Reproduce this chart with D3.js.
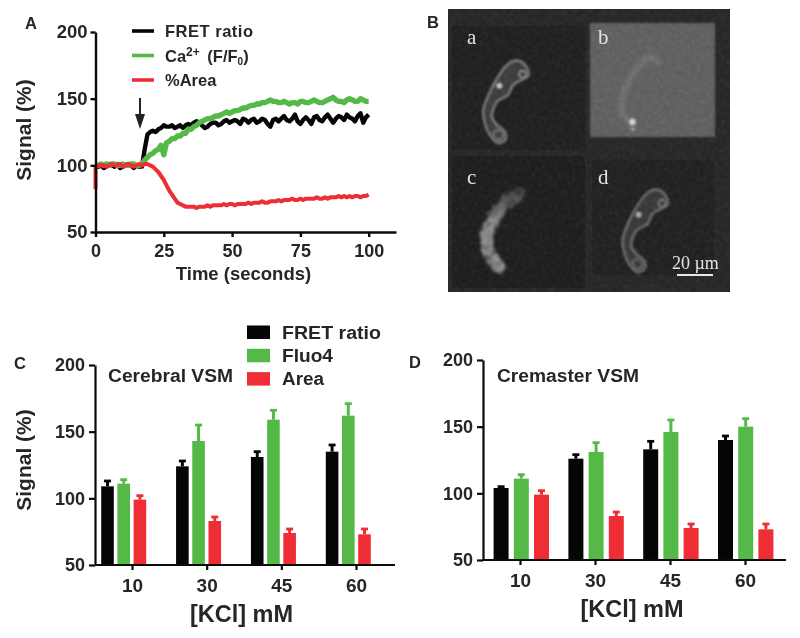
<!DOCTYPE html>
<html><head><meta charset="utf-8">
<script src="https://cdn.jsdelivr.net/npm/d3@7"></script>
<style>
html,body{margin:0;padding:0;background:#fff}
svg{display:block}
filter{color-interpolation-filters:sRGB}
text{font-family:"Liberation Sans",Arial,sans-serif;font-weight:700;fill:#262626}
.serif{font-family:"Liberation Serif",serif;font-weight:400;fill:#e4e4e4}
</style></head><body><div id="c"></div>
<script>
// ---------- Panel A data (one reading per second, 0-100 s) ----------
const fretRatio=[100,99,100,98,99,101,100,99,101,98,99,100,101,100,98,100,99,99,
112,123,125,126,125,127,128,130,129,129,130,128,129,130,128,130,131,130,132,133,
132,130,128,129,131,132,132,130,131,133,134,132,
133,134,133,131,135,134,132,134,135,132,
133,135,134,131,129,134,135,133,135,137,
134,133,135,138,133,131,134,136,134,131,
136,137,134,133,136,138,135,132,135,137,
136,134,138,136,135,133,137,139,132,136,138];
const calcium=[100,100,101,100,101,100,101,101,100,100,101,100,100,101,101,100,100,101,
104,106,108,109,111,112,115,108,117,118,120,120,122,122,124,124,127,127,129,130,132,133,
134,135,135,136,137,137,138,139,140,139,
140,141,141,142,143,143,144,145,145,146,
146,147,147,148,149,148,148,147,147,148,
147,146,147,147,146,148,148,147,147,148,
149,148,147,147,148,149,150,151,149,148,
148,147,149,150,149,148,148,150,149,148,148];
const areaOnset=82;
const areaPct=[98,100,100,100,99,100,101,100,100,101,99,100,101,100,99,100,101,100,101,101,
100,99,97,95,92,89,85,81,78,75,
72,71,70,69,69,69,69,68,69,69,
69,70,69,70,70,70,70,71,70,71,
71,70,71,71,71,71,72,71,72,72,
72,73,72,72,73,73,73,74,73,74,
74,74,75,74,74,75,74,75,75,75,
75,76,75,75,76,75,76,76,76,77,
76,77,76,77,76,77,77,76,77,77,78];
const timeTicks=[0,25,50,75,100];
const signalTicks=[50,100,150,200];
const kcl=["10","30","45","60"];
// ---------- Panel C ----------
const cFret=[109,124,131,135], cFretTop=[113,128,135,140];
const cFluo=[111,143,159,162], cFluoTop=[114,155,166,171];
const cArea=[99,83,74,73],     cAreaTop=[102,86,77,77];
// ---------- Panel D ----------
const dFret=[104,126,133,140], dFretTop=[105,129,139,143];
const dFluo=[111,131,146,150], dFluoTop=[114,138,155,156];
const dArea=[99,83,74,73],     dAreaTop=[102,86,77,77];
// ---------- Micrograph outlines (panel B, image-space) ----------
const cellOutline=[[517,60.5],[525,65],[528.5,75],[522,79.5],[513,85],[508,95],[497,101.5],[492,117],[497,125],[505,132],[505,140],[498,143],[490,135],[485,123.5],[483.5,110],[490,92],[498,77],[507,65]];
const ghostBand=[[658,62],[650,56.5],[643,62],[630,78],[623,97],[622,113],[632,123]];
const clumpBand=[[520,193],[508,200],[497,213],[489,228],[487,248],[499,267]];

const BLACK="#050505",GREEN="#55b947",RED="#ee2e34";
const svg=d3.select("#c").append("svg").attr("width",800).attr("height",638);
const defs=svg.append("defs");
defs.append("filter").attr("id","soft").attr("x","-5%").attr("y","-5%").attr("width","110%").attr("height","110%")
  .append("feGaussianBlur").attr("stdDeviation",0.55);
const blur=(id,s)=>defs.append("filter").attr("id",id).attr("x","-30%").attr("y","-30%").attr("width","160%").attr("height","160%").append("feGaussianBlur").attr("stdDeviation",s);
blur("b1",1.3);blur("b2",1.9);blur("b0",0.9);
// grain overlay
const grain=defs.append("filter").attr("id","grain").attr("x",0).attr("y",0).attr("width","100%").attr("height","100%");
grain.append("feTurbulence").attr("type","fractalNoise").attr("baseFrequency",0.4).attr("numOctaves",2).attr("seed",4);
grain.append("feColorMatrix").attr("values","1 1 0 0 -0.85  1 1 0 0 -0.85  1 1 0 0 -0.85  0 0 0 0 0.16");
grain.append("feGaussianBlur").attr("stdDeviation",0.8);
// clump texture for image c
const cl=defs.append("filter").attr("id","clump").attr("x","-30%").attr("y","-30%").attr("width","160%").attr("height","160%");
cl.append("feTurbulence").attr("type","fractalNoise").attr("baseFrequency",0.18).attr("numOctaves",2).attr("seed",9).attr("result","n");
cl.append("feDisplacementMap").attr("in","SourceGraphic").attr("in2","n").attr("scale",6).attr("result","d");
cl.append("feColorMatrix").attr("in","n").attr("values","0 0 0 0 0 0 0 0 0 0 0 0 0 0 0 1.9 0 0 0 -0.05").attr("result","m");
cl.append("feComposite").attr("in","d").attr("in2","m").attr("operator","in").attr("result","t");
cl.append("feGaussianBlur").attr("in","t").attr("stdDeviation",1.6);
const fade=defs.append("linearGradient").attr("id","fade").attr("gradientUnits","userSpaceOnUse").attr("x1",0).attr("x2",0).attr("y1",190).attr("y2",222);
fade.append("stop").attr("offset",0).attr("stop-color","#4c4c4c");
fade.append("stop").attr("offset",1).attr("stop-color","#a4a4a4");

const root=svg.append("g").attr("filter","url(#soft)");

function styleAxis(g,w,fs){
  g.selectAll("path,line").attr("stroke","#0a0a0a").attr("stroke-width",w);
  g.selectAll("text").style("font-size",fs+"px");
}
function label(x,y,t,fs,anchor,rot,len){
  const e=root.append("text").attr("x",x).attr("y",y).attr("font-size",fs).attr("text-anchor",anchor||"start").text(t);
  if(rot) e.attr("transform",`rotate(${rot} ${x} ${y})`);
  if(len) e.attr("textLength",len).attr("lengthAdjust","spacingAndGlyphs");
  return e;
}
// ================= Panel A =================
{
  const x=d3.scaleLinear().domain([0,110]).range([95.5,396]);
  const y=d3.scaleLinear().domain([50,200]).range([232,32]);
  const line=d3.line().x(d=>x(d[0])).y(d=>y(d[1]));
  const series=[[fretRatio,BLACK,4.4],[calcium,GREEN,5.4]];
  const gl=root.append("g").attr("fill","none").attr("stroke-linejoin","round");
  series.forEach(([v,c,w])=>gl.append("path").attr("d",line(v.map((d,i)=>[i,d]))).attr("stroke",c).attr("stroke-width",w));
  gl.append("path").attr("d",line([[0,areaOnset]].concat(areaPct.map((d,i)=>[i,d])))).attr("stroke",RED).attr("stroke-width",4);
  const gx=root.append("g").attr("transform","translate(0,232)").call(d3.axisBottom(x).tickValues(timeTicks).tickSize(5).tickPadding(7).tickSizeOuter(0));
  styleAxis(gx,2.4,18);
  const gy=root.append("g").attr("transform","translate(95.5,0)").call(d3.axisLeft(y).tickValues(signalTicks).tickSize(5).tickPadding(3).tickSizeOuter(0));
  styleAxis(gy,2.4,18.5);
  // arrow
  root.append("line").attr("x1",140).attr("x2",140).attr("y1",98).attr("y2",118).attr("stroke","#222").attr("stroke-width",2);
  root.append("path").attr("d",d3.line()([[135,114],[145,114],[140,129]])).attr("fill","#222");
  // legend
  [["FRET ratio",BLACK],["Ca",GREEN],["%Area",RED]].forEach(([t,c],i)=>{
    const ly=31+24.5*i;
    root.append("line").attr("x1",132).attr("x2",154).attr("y1",ly).attr("y2",ly).attr("stroke",c).attr("stroke-width",3.6);
    const e=label(165,ly+6,t,16.5);
    if(i===0) e.attr("textLength",88).attr("lengthAdjust","spacing");
    if(i===1){
      e.append("tspan").attr("dy",-6).attr("font-size",12).text("2+");
      e.append("tspan").attr("dy",6).attr("dx",3).text(" (F/F");
      e.append("tspan").attr("dy",3).attr("font-size",10).text("0");
      e.append("tspan").attr("dy",-3).text(")");
    }
  });
  label(24,130,"Signal (%)",21,"middle",null).attr("transform","rotate(-90 24 130) translate(0,7)");
  label(243.5,280,"Time (seconds)",18.5,"middle");
  label(25,29,"A",16.5);
}
// ================= Panel B (micrograph) =================
{
  const b=root.append("g");
  b.append("rect").attr("x",448).attr("y",9).attr("width",282).attr("height",283).attr("fill","#2b2a2a");
  b.append("rect").attr("x",452).attr("y",26).attr("width",133).attr("height",124).attr("fill","#232222");
  b.append("rect").attr("x",452).attr("y",156).attr("width",133).attr("height",132).attr("fill","#201f1f");
  b.append("rect").attr("x",592).attr("y",160).attr("width",122).attr("height",115).attr("fill","#242323");
  b.append("rect").attr("x",590).attr("y",23).attr("width",125).attr("height",114).attr("fill","#6d6d6c").attr("filter","url(#b0)");
  const closed=d3.line().curve(d3.curveCatmullRomClosed);
  const open=d3.line().curve(d3.curveCatmullRom);
  const drawCell=(dx,dy,k)=>{
    const g=b.append("g").attr("transform",`translate(${dx},${dy})`).attr("opacity",k);
    g.append("path").attr("d",closed(cellOutline)).attr("fill","#444").attr("stroke","#858585").attr("stroke-width",2.8).attr("filter","url(#b1)");
    g.append("circle").attr("cx",522.7).attr("cy",74.3).attr("r",3.6).attr("fill","#4a4a4a").attr("stroke","#a8a8a8").attr("stroke-width",1.8).attr("filter","url(#b0)");
    g.append("circle").attr("cx",498.3).attr("cy",135).attr("r",5).attr("fill","#484848").attr("stroke","#828282").attr("stroke-width",2.4).attr("filter","url(#b1)");
    g.append("circle").attr("cx",499.3).attr("cy",85.7).attr("r",3).attr("fill","#e0e0e0").attr("filter","url(#b1)");
  };
  drawCell(0,0,1);
  drawCell(139.3,129,0.85);
  b.append("path").attr("d",open(ghostBand)).attr("fill","none").attr("stroke","#828282").attr("stroke-width",6).attr("stroke-linecap","round").attr("filter","url(#b2)");
  b.append("circle").attr("cx",632.5).attr("cy",122).attr("r",3.2).attr("fill","#fafafa").attr("filter","url(#b0)");
  b.append("circle").attr("cx",633).attr("cy",129).attr("r",2.2).attr("fill","#aaa").attr("filter","url(#b0)");
  b.append("path").attr("d",open(clumpBand)).attr("fill","none").attr("stroke","url(#fade)").attr("stroke-width",13).attr("stroke-linecap","round").attr("filter","url(#clump)");
  b.append("rect").attr("x",448).attr("y",9).attr("width",282).attr("height",283).attr("fill","#fff").attr("filter","url(#grain)");
  [["a",467,44],["b",598,44],["c",467,184],["d",598,184]].forEach(([t,px,py])=>{
    b.append("text").attr("class","serif").attr("x",px).attr("y",py).attr("font-size",21).text(t);
  });
  b.append("text").attr("class","serif").attr("x",672).attr("y",269).attr("font-size",18).text("20 µm");
  b.append("line").attr("x1",677).attr("x2",713).attr("y1",275).attr("y2",275).attr("stroke","#e8e8e8").attr("stroke-width",2);
  label(427,28,"B",16.5);
}
// ================= Bar panels =================
function barPanel(o){
  const groupX=d3.scalePoint().domain(kcl).range(o.groupRange);
  const tickX=d3.scalePoint().domain(kcl).range(o.tickRange);
  const offset=d3.scalePoint().domain([0,1,2]).range([-o.gap,o.gap]);
  const y=d3.scaleLinear().domain([50,200]).range([o.y0,o.y1]);
  [[o.fret,o.fretTop,BLACK],[o.fluo,o.fluoTop,GREEN],[o.area,o.areaTop,RED]].forEach(([v,t,c],s)=>{
    const g=root.append("g").attr("fill",c).attr("stroke",c);
    kcl.forEach((k,i)=>{
      const cx=groupX(k)+offset(s);
      g.append("line").attr("x1",cx).attr("x2",cx).attr("y1",y(t[i])).attr("y2",y(v[i])).attr("stroke-width",3);
      g.append("line").attr("x1",cx-3.5).attr("x2",cx+3.5).attr("y1",y(t[i])).attr("y2",y(t[i])).attr("stroke-width",2.8);
      g.append("rect").attr("x",cx-o.bw/2).attr("width",o.bw).attr("y",y(v[i])).attr("height",y(50)-y(v[i])).attr("stroke","none");
    });
  });
  const gx=root.append("g").attr("transform",`translate(0,${o.y0})`).call(d3.axisBottom(tickX).tickSize(5).tickPadding(9).tickSizeOuter(0));
  gx.select(".domain").remove();
  styleAxis(gx,2.2,19);
  root.append("line").attr("x1",o.axisX).attr("x2",o.xEnd).attr("y1",o.y0).attr("y2",o.y0).attr("stroke","#0a0a0a").attr("stroke-width",2.2);
  const gy=root.append("g").attr("transform",`translate(${o.axisX},0)`).call(d3.axisLeft(y).tickValues(signalTicks).tickSize(6).tickPadding(4).tickSizeOuter(0));
  styleAxis(gy,2.2,18);
}
barPanel({groupRange:[123.7,348.3],tickRange:[132,356],gap:16.2,bw:12.6,y0:565,y1:365,axisX:95,xEnd:395,
  fret:cFret,fretTop:cFretTop,fluo:cFluo,fluoTop:cFluoTop,area:cArea,areaTop:cAreaTop});
barPanel({groupRange:[521.3,745.7],tickRange:[520,745],gap:20.2,bw:15,y0:560,y1:360,axisX:483,xEnd:786,
  fret:dFret,fretTop:dFretTop,fluo:dFluo,fluoTop:dFluoTop,area:dArea,areaTop:dAreaTop});
// Panel C legend and text
[["FRET ratio",BLACK,99],["Fluo4",GREEN,51],["Area",RED,42]].forEach(([t,c,w],i)=>{
  const top=325.5+23.3*i;
  root.append("rect").attr("x",247).attr("y",top).attr("width",23).attr("height",13.5).attr("fill",c);
  label(282,top+13,t,18,"start",null,w);
});
label(108,382,"Cerebral VSM",17.5,"start",null,125);
label(24,460,"Signal (%)",21,"middle").attr("transform","rotate(-90 24 460) translate(0,7)");
label(241.5,622,"[KCl] mM",23.5,"middle",null);
label(14,369,"C",16.5);
// Panel D text
label(497,382,"Cremaster VSM",17.5,"start",null,142);
label(632,617,"[KCl] mM",23.5,"middle");
label(409,368,"D",16.5);
</script></body></html>
